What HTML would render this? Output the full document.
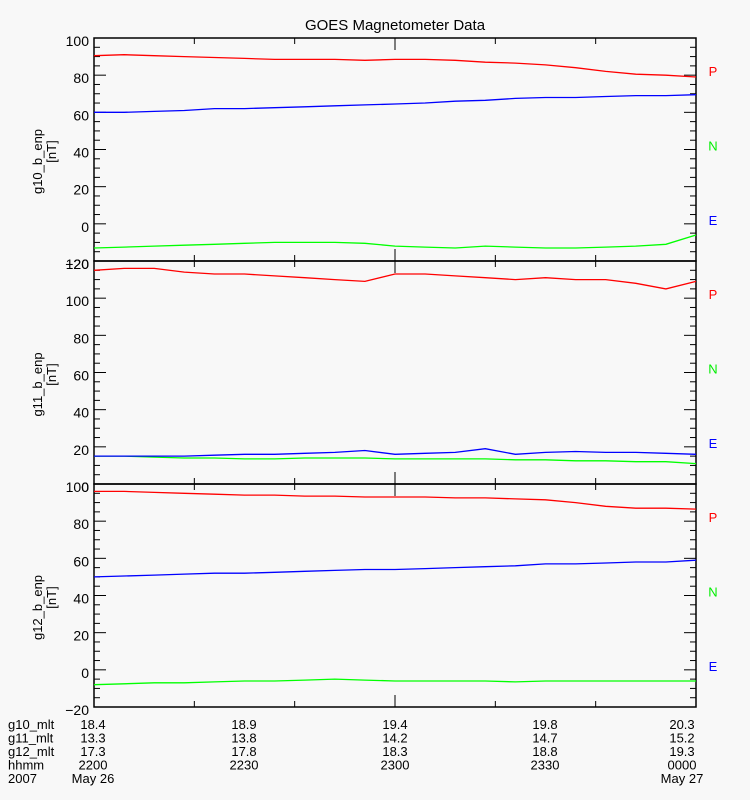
<!DOCTYPE html>
<html><head><meta charset="utf-8"><style>
body{margin:0;background:#f8f8f8;}
svg{display:block;font-family:"Liberation Sans","DejaVu Sans",sans-serif;}
</style></head><body>
<svg id="c" width="750" height="800">
<rect width="750" height="800" fill="#f8f8f8"/>
<text x="395" y="30" text-anchor="middle" font-size="15" fill="#000">GOES Magnetometer Data</text>
</svg>
<script>
const timesMin=[0,3,6,9,12,15,18,21,24,27,30,33,36,39,42,45,48,51,54,57,60];
const g10P=[90.5,91,90.5,90,89.5,89,88.5,88.5,88.5,88,88.5,88.5,88,87,86.5,85.5,84,82,80.5,80,79];
const g10N=[-13,-12.5,-12,-11.5,-11,-10.5,-10,-10,-10,-10.5,-12,-12.5,-13,-12,-12.5,-13,-13,-12.5,-12,-11,-6];
const g10E=[60,60,60.5,61,62,62,62.5,63,63.5,64,64.5,65,66,66.5,67.5,68,68,68.5,69,69,69.5];
const g11P=[115,116,116,114,113,113,112,111,110,109,113,113,112,111,110,111,110,110,108,105,109];
const g11N=[15,15,14.5,14,14,13.5,13.5,14,14,14,13.5,13.5,13.5,13.5,13,13,12.5,12.5,12,12,11];
const g11E=[15,15,15,15,15.5,16,16,16.5,17,18,16,16.5,17,19,16,17,17.5,17,17,16.5,16];
const g12P=[96,96,95.5,95,94.5,94,94,93.5,93.5,93,93,93,92.5,92.5,92,91.5,90,88,87,87,86.5];
const g12N=[-8,-7.5,-7,-7,-6.5,-6,-6,-5.5,-5,-5.5,-6,-6,-6,-6,-6.5,-6,-6,-6,-6,-6,-6];
const g12E=[50,50.5,51,51.5,52,52,52.5,53,53.5,54,54,54.5,55,55.5,56,57,57,57.5,58,58,59];
const panelNames=["g10_b_enp","g11_b_enp","g12_b_enp"];
const panelMin=[-20,0,-20];
const panelMax=[100,120,100];
const mltRows=[["g10_mlt","18.4","18.9","19.4","19.8","20.3"],["g11_mlt","13.3","13.8","14.2","14.7","15.2"],["g12_mlt","17.3","17.8","18.3","18.8","19.3"],["hhmm","2200","2230","2300","2330","0000"],["2007","May 26","","","","May 27"]];
const NS="http://www.w3.org/2000/svg";
const svg=document.getElementById('c');
const X0=94,X1=696;
const tops=[38,261,484],H=223;
function xs(t){return X0+t/60*(X1-X0);}
function mk(tag,a,parent){const e=document.createElementNS(NS,tag);for(const k in a)e.setAttribute(k,a[k]);(parent||svg).appendChild(e);return e;}
const series=[[g10P,g10N,g10E],[g11P,g11N,g11E],[g12P,g12N,g12E]];
const cols=["#ff0000","#00ff00","#0000ff"];
const comp=["P","N","E"];
const compCol=["#ff0000","#00ee00","#0000ff"];
for(let p=0;p<3;p++){
  const top=tops[p],mn=panelMin[p],mx=panelMax[p];
  const ys=v=>top+(mx-v)/(mx-mn)*H;
  const g=mk('g',{});
  
  
  const fr=mk('rect',{x:X0,y:top,width:X1-X0,height:H,fill:'none',stroke:'#000','stroke-width':1.5},g);
  
  
  for(let v=mn;v<=mx;v+=5){
    const major=(v-mn)%20===0;const L=major?12:6;const y=ys(v);
    mk('line',{x1:X0,x2:X0+L,y1:y,y2:y,stroke:'#000'},g);
    mk('line',{x1:X1,x2:X1-L,y1:y,y2:y,stroke:'#000'},g);
    if(major){const t=mk('text',{x:89,y:y+8,'text-anchor':'end','font-size':14},g);t.textContent=v<0?'\u2212'+(-v):v;
      
      }
  }
  for(let m=0;m<=60;m+=10){const x=xs(m);const L=m%30===0?12:6;
    mk('line',{x1:x,x2:x,y1:top+H,y2:top+H-L,stroke:'#000'},g);
    mk('line',{x1:x,x2:x,y1:top,y2:top+L,stroke:'#000'},g);}
  for(let s=0;s<3;s++){
    const pts=series[p][s].map((v,i)=>xs(timesMin[i]).toFixed(1)+','+ys(v).toFixed(1)).join(' ');
    const pl=mk('polyline',{points:pts,fill:'none',stroke:cols[s],'stroke-width':1.3},g);
    
    
    const lt=mk('text',{x:713,y:top+38+s*74.5,'text-anchor':'middle','font-size':13,fill:compCol[s]},g);
    lt.textContent=comp[s];
    
    
  }
  const cy=top+H/2+12;
  const yt=mk('text',{transform:`translate(42,${cy}) rotate(-90)`,'text-anchor':'middle','font-size':13},g);
  yt.textContent=panelNames[p];
  
  
  const yu=mk('text',{transform:`translate(56,${cy-10}) rotate(-90)`,'text-anchor':'middle','font-size':13},g);
  yu.textContent='[nT]';
  
  
}
const colX=[93,244,395,545,682];
mltRows.forEach((r,i)=>{
  const y=729+i*13.5;
  const l=mk('text',{x:8,y:y,'font-size':13});l.textContent=r[0];
  
  
  for(let k=1;k<6;k++){if(!r[k])continue;
    const t=mk('text',{x:colX[k-1],y:y,'text-anchor':'middle','font-size':13});t.textContent=r[k];
    
    }
});
</script>
</body></html>
